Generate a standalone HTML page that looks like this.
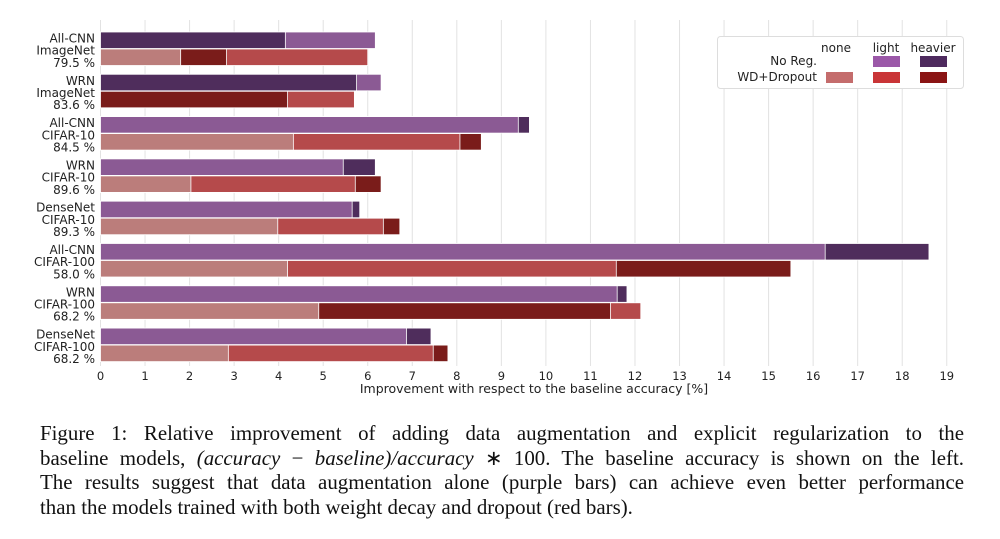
<!DOCTYPE html>
<html><head><meta charset="utf-8"><style>
body{margin:0;background:#fff;width:1000px;height:539px;overflow:hidden;position:relative}
#cap{position:absolute;left:40px;top:421px;width:924px;font-family:"Liberation Serif",serif;font-size:20.9px;line-height:24.5px;color:#111}
#cap div{text-align:justify;text-align-last:justify;white-space:nowrap}
#cap div.last{text-align-last:left}
</style></head><body>
<svg id="chart" width="1000" height="410" style="position:absolute;left:0;top:0" font-family="DejaVu Sans, Liberation Sans, sans-serif"></svg>
<div id="cap">
<div>Figure 1: Relative improvement of adding data augmentation and explicit regularization to the</div>
<div>baseline models, <i>(accuracy</i> − <i>baseline)/accuracy</i> ∗ 100. The baseline accuracy is shown on the left.</div>
<div>The results suggest that data augmentation alone (purple bars) can achieve even better performance</div>
<div class="last">than the models trained with both weight decay and dropout (red bars).</div>
</div>
<script>
const categories=[["All-CNN","ImageNet","79.5 %"],["WRN","ImageNet","83.6 %"],["All-CNN","CIFAR-10","84.5 %"],["WRN","CIFAR-10","89.6 %"],["DenseNet","CIFAR-10","89.3 %"],["All-CNN","CIFAR-100","58.0 %"],["WRN","CIFAR-100","68.2 %"],["DenseNet","CIFAR-100","68.2 %"]];
const noRegLight=[6.17,6.3,9.38,5.45,5.65,16.27,11.6,6.87];
const noRegHeavier=[4.15,5.75,9.63,6.17,5.82,18.6,11.82,7.42];
const wdNone=[1.8,0,4.33,2.03,3.98,4.2,4.9,2.87];
const wdLight=[6.0,5.7,8.07,5.72,6.35,11.58,12.13,7.47];
const wdHeavier=[2.83,4.2,8.55,6.3,6.72,15.5,11.45,7.8];
const ticks=[0,1,2,3,4,5,6,7,8,9,10,11,12,13,14,15,16,17,18,19];
const C={pl:"#8b5a94",ph:"#4f2d5c",rn:"#bb7d7b",rl:"#b54a4b",rh:"#7a1c1a"};
const svg=document.getElementById('chart');const NS="http://www.w3.org/2000/svg";
const x=v=>100.5+v*44.54;
const y=i=>32+i*42.3;
function mk(t,a,p){const e=document.createElementNS(NS,t);for(const k in a)e.setAttribute(k,a[k]);(p||svg).appendChild(e);return e;}
ticks.forEach(t=>{
 const g=mk('line',{x1:x(t),x2:x(t),y1:20,y2:366,stroke:'#e2e2e2','stroke-width':1});
 
 
 const l=mk('text',{x:x(t),y:380,'text-anchor':'middle','font-size':11.5,fill:'#222'});l.textContent=t;
 
 
});
const xt=mk('text',{x:534,y:393,'text-anchor':'middle','font-size':12.5,fill:'#222'});xt.textContent='Improvement with respect to the baseline accuracy [%]';


function row(vals,top){
 vals.slice().sort((a,b)=>b[0]-a[0]).forEach(o=>{
  if(o[0]<=0)return;
  const r=mk('rect',{x:x(0),y:top,width:x(o[0])-x(0),height:16.5,fill:o[1],stroke:'#fff','stroke-width':0.8});
  
  
 });
}
categories.forEach((c,i)=>{
 row([[noRegHeavier[i],C.ph,'bar-noreg-heavier-'+i],[noRegLight[i],C.pl,'bar-noreg-light-'+i]],y(i));
 row([[wdNone[i],C.rn,'bar-wd-none-'+i],[wdLight[i],C.rl,'bar-wd-light-'+i],[wdHeavier[i],C.rh,'bar-wd-heavier-'+i]],y(i)+17);
 c.forEach((s,j)=>{const t=mk('text',{x:95,y:y(i)+10.5+j*12.2,'text-anchor':'end','font-size':12,fill:'#222'});t.textContent=s;
  
  });
});
const lg=mk('g',{});
mk('rect',{x:717.5,y:36.5,width:246,height:52,rx:3,fill:'#fff',stroke:'#ddd'},lg);
[['none',836],['light',886],['heavier',933]].forEach(([s,cx])=>{const t=mk('text',{x:cx,y:52,'text-anchor':'middle','font-size':12,fill:'#222'},lg);t.textContent=s;});
[['No Reg.',65],['WD+Dropout',81]].forEach(([s,yy])=>{const t=mk('text',{x:817,y:yy,'text-anchor':'end','font-size':12,fill:'#222'},lg);t.textContent=s;});
[[873,56,'#9b58a8'],[920,56,'#4e2a5e'],[826,72,'#c46c6c'],[873,72,'#c93537'],[920,72,'#8a1414']].forEach(([a,b,c])=>{const r=mk('rect',{x:a,y:b,width:27,height:11,fill:c},lg);});
</script>
</body></html>
